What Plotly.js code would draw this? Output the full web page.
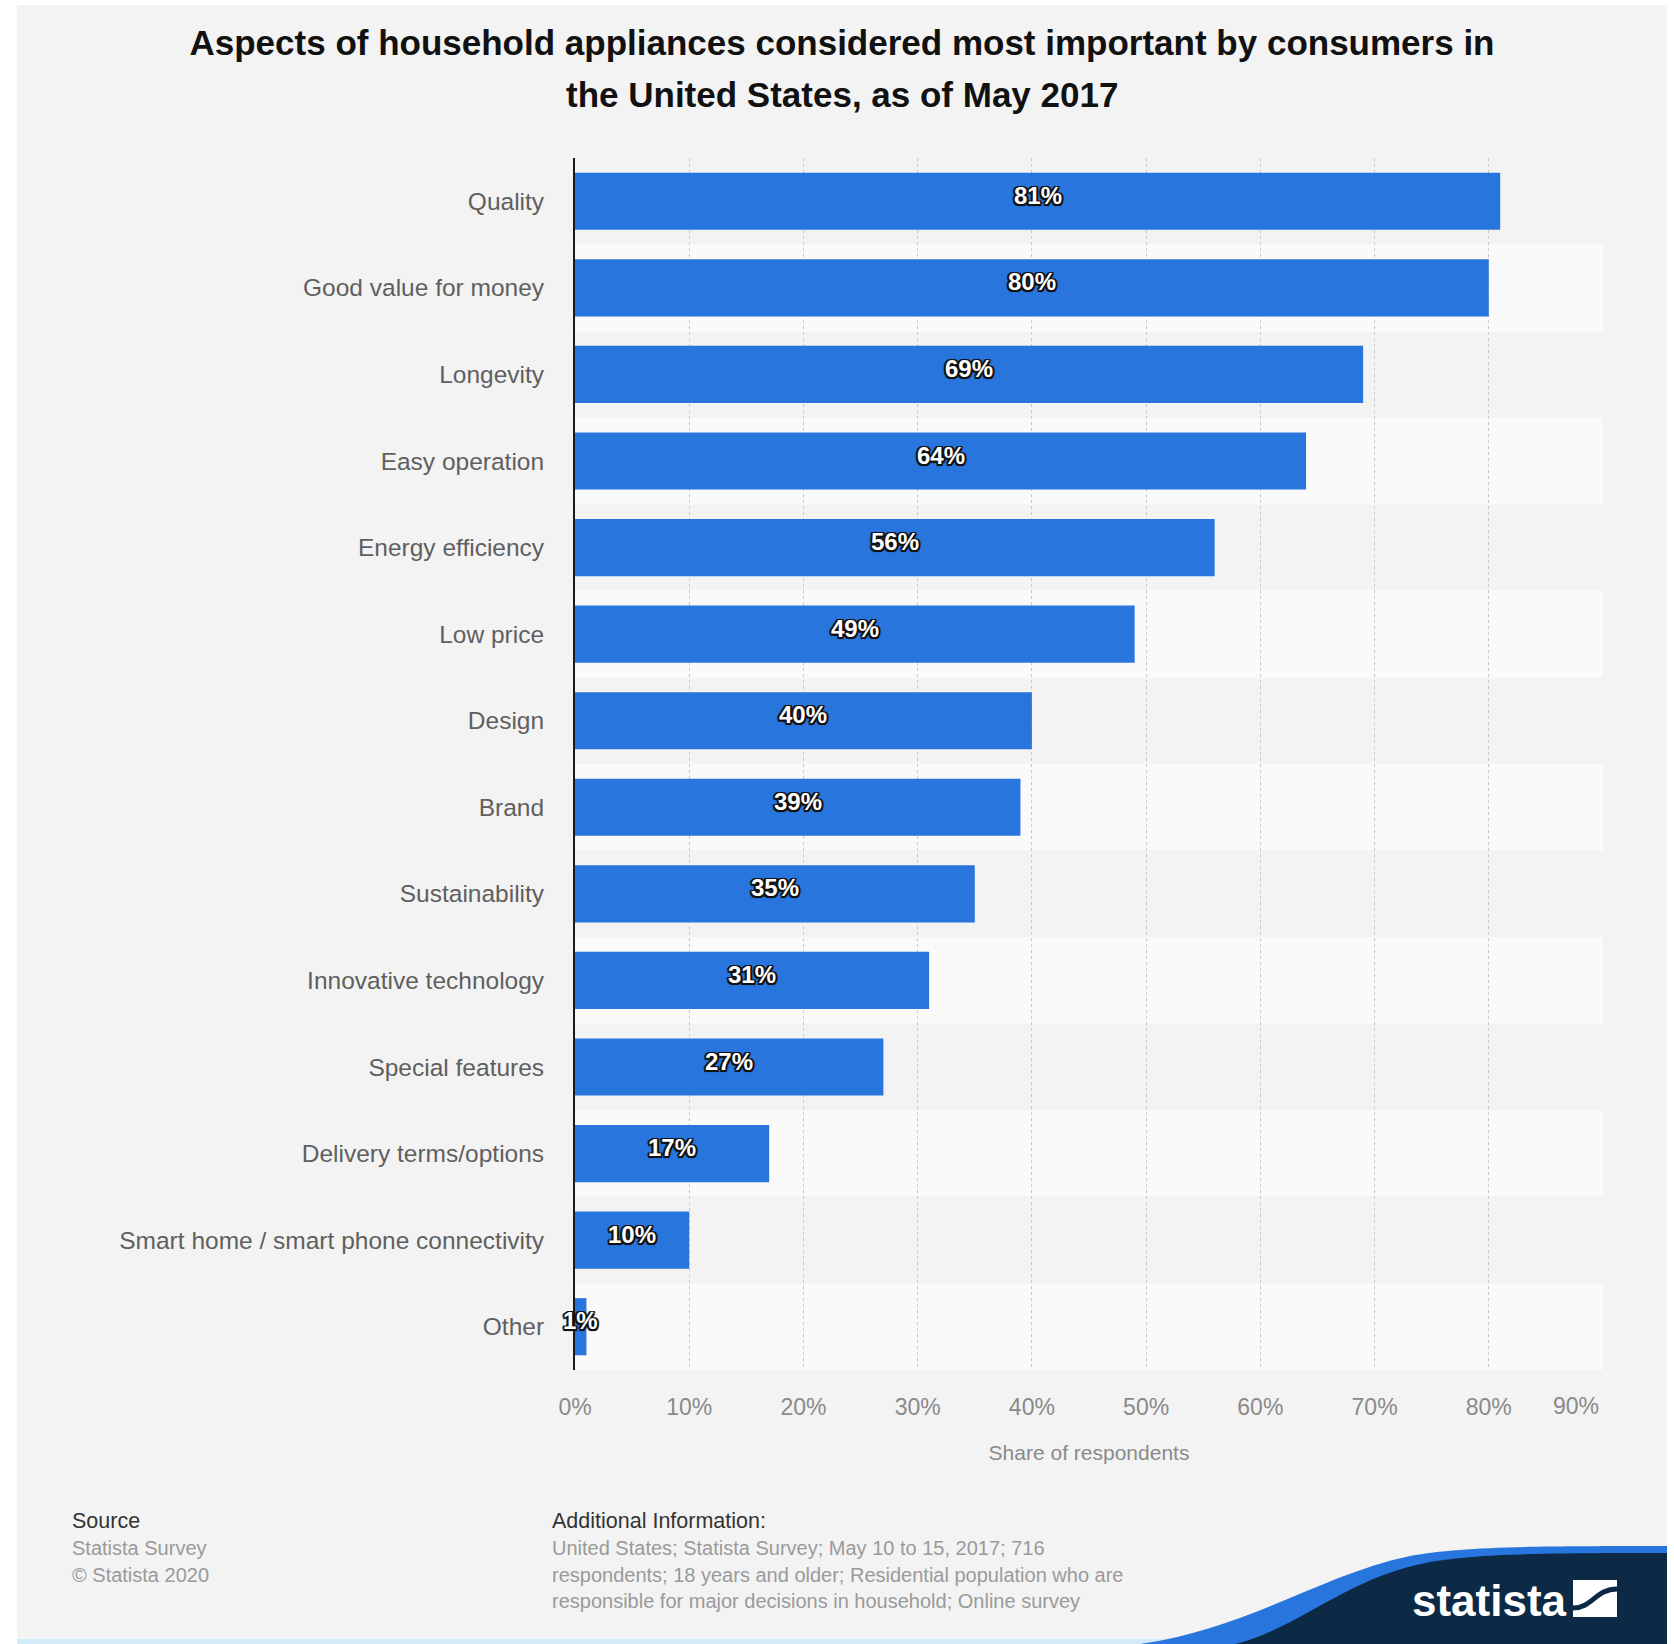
<!DOCTYPE html>
<html>
<head>
<meta charset="utf-8">
<script src="https://cdn.plot.ly/plotly-3.0.1.min.js"></script>
<style>html,body{margin:0;padding:0;background:#fff;}#chart{width:1674px;height:1644px;}</style>
</head>
<body>
<div id="chart"></div>
<script>
// ---- data ----
const categories = ['Quality','Good value for money','Longevity','Easy operation','Energy efficiency','Low price','Design','Brand','Sustainability','Innovative technology','Special features','Delivery terms/options','Smart home / smart phone connectivity','Other'];
const values = [81,80,69,64,56,49,40,39,35,31,27,17,10,1];
const xTickVals = [0,10,20,30,40,50,60,70,80,90];
const xTickText = ['0%','10%','20%','30%','40%','50%','60%','70%','80%','90%'];
const titleLine1 = 'Aspects of household appliances considered most important by consumers in';
const titleLine2 = 'the United States, as of May 2017';
const xTitle = 'Share of respondents';
const sourceLines = ['Statista Survey','© Statista 2020'];
const infoLines = ['United States; Statista Survey; May 10 to 15, 2017; 716','respondents; 18 years and older; Residential population who are','responsible for major decisions in household; Online survey'];

// ---- layout geometry (pixels) ----
const W = 1674, H = 1644;
const L = 575, R = 1603, T = 158, B = 1370;
const px = X => (X - L) / (R - L);
const py = Y => (B - Y) / (B - T);
const FONT = 'Liberation Sans, Arial, Helvetica, sans-serif';
const BAR = '#2876dd', NAVY = '#0c2a46';
const OUTLINE = '-1.5px -1.5px 0 #111, 1.5px -1.5px 0 #111, -1.5px 1.5px 0 #111, 1.5px 1.5px 0 #111, 0 2px 1px #111, 2px 0 1px #111, -2px 0 1px #111';

function pth(str){
  return str.replace(/(-?\d+(?:\.\d+)?),(-?\d+(?:\.\d+)?)/g, (m,a,b)=> px(+a).toFixed(5)+','+py(+b).toFixed(5));
}

const shapes = [];
shapes.push({type:'rect', xref:'paper', yref:'paper', layer:'below', x0:px(17), x1:px(1667), y0:py(5), y1:py(1640), fillcolor:'#f3f3f3', line:{width:0}});
categories.forEach((c,i)=>{
  if(i%2===1){
    shapes.push({type:'rect', xref:'paper', yref:'y', layer:'below', x0:0, x1:1, y0:i-0.5, y1:i+0.5, fillcolor:'#fafafa', line:{width:0}});
  }
});
shapes.push({type:'rect', xref:'paper', yref:'paper', layer:'above', x0:px(17), x1:px(1260), y0:py(1644), y1:py(1639), fillcolor:'#d3ebf6', line:{width:0}});
shapes.push({type:'path', xref:'paper', yref:'paper', layer:'above', path: pth('M 1140,1644 C 1250,1628 1320,1575 1410,1556 C 1460,1547 1520,1546 1667,1546 L 1667,1644 Z'), fillcolor:BAR, line:{width:0}});
shapes.push({type:'path', xref:'paper', yref:'paper', layer:'above', path: pth('M 1235,1644 C 1300,1628 1345,1578 1430,1562 C 1480,1554 1530,1553 1667,1553 L 1667,1644 Z'), fillcolor:NAVY, line:{width:0}});
shapes.push({type:'rect', xref:'paper', yref:'paper', layer:'above', x0:px(1573), x1:px(1617), y0:py(1617), y1:py(1580), fillcolor:'#ffffff', line:{width:0}});
shapes.push({type:'path', xref:'paper', yref:'paper', layer:'above', path: pth('M 1573,1608 C 1592,1608 1596,1589 1617,1589'), line:{color:NAVY, width:5}});

const annotations = [];
annotations.push({xref:'paper', yref:'paper', x:px(842), y:py(94), text:'<b>'+titleLine2+'</b>', showarrow:false, xanchor:'center', yanchor:'middle', font:{family:FONT, size:35, color:'#111'}});
// bar value labels
values.forEach((v,i)=> annotations.push({xref:'x', yref:'y', x:v/2, y:categories[i], yshift:6, text:'<b>'+v+'%</b>', showarrow:false, xanchor:'center', yanchor:'middle', font:{family:FONT, size:24, color:'#ffffff', shadow:OUTLINE}}));
// last x tick label, kept inside the plot edge as in the original
annotations.push({xref:'x', yref:'paper', x:xTickVals[xTickVals.length-1], y:py(1406), text:xTickText[xTickText.length-1], showarrow:false, xanchor:'right', yanchor:'middle', xshift:-2, font:{family:FONT, size:23, color:'#8a8a8a'}});
annotations.push({xref:'paper', yref:'paper', x:px(70), y:py(1521), text:'Source', showarrow:false, xanchor:'left', yanchor:'middle', font:{family:FONT, size:21.5, color:'#333'}});
sourceLines.forEach((t,i)=> annotations.push({xref:'paper', yref:'paper', x:px(70), y:py(1548 + i*26.5), text:t, showarrow:false, xanchor:'left', yanchor:'middle', font:{family:FONT, size:20, color:'#9a9a9a'}}));
annotations.push({xref:'paper', yref:'paper', x:px(550), y:py(1521), text:'Additional Information:', showarrow:false, xanchor:'left', yanchor:'middle', font:{family:FONT, size:21.5, color:'#333'}});
infoLines.forEach((t,i)=> annotations.push({xref:'paper', yref:'paper', x:px(550), y:py(1548 + i*26.5), text:t, showarrow:false, xanchor:'left', yanchor:'middle', font:{family:FONT, size:20, color:'#9a9a9a'}}));
annotations.push({xref:'paper', yref:'paper', x:px(1410), y:py(1600), text:'<b>statista</b>', showarrow:false, xanchor:'left', yanchor:'middle', font:{family:FONT, size:44, color:'#ffffff'}});

const trace = {
  type:'bar', orientation:'h',
  x: values, y: categories,
  width: 0.66,
  marker:{color:BAR, line:{width:0}},
  hoverinfo:'x+y', cliponaxis:false
};

const shownTickText = xTickText.map((t,i)=> i === xTickText.length-1 ? '' : t);

const layout = {
  width: W, height: H,
  margin:{l:L, r:W-R, t:T, b:H-B, pad:0},
  paper_bgcolor:'#ffffff', plot_bgcolor:'rgba(0,0,0,0)',
  showlegend:false,
  title:{text:'<b>'+titleLine1+'</b>', x:842/W, xanchor:'center', y:1-43/H, yanchor:'middle', font:{family:FONT, size:35, color:'#111'}},
  xaxis:{range:[0,90], tickvals:xTickVals, ticktext:shownTickText, showgrid:true, griddash:'dot', gridcolor:'#c8c8c8', gridwidth:1, zeroline:false, showline:false, ticks:'', ticklabelstandoff:21, tickfont:{family:FONT, size:23, color:'#8a8a8a'}, title:{text:xTitle, standoff:26, font:{family:FONT, size:21, color:'#8a8a8a'}}, fixedrange:true},
  yaxis:{type:'category', categoryorder:'array', categoryarray:categories, autorange:'reversed', showline:true, linecolor:'#1a1a1a', linewidth:2, ticks:'', showgrid:false, zeroline:false, ticklabelstandoff:24, tickfont:{family:FONT, size:24.5, color:'#5f5f5f'}, fixedrange:true},
  shapes: shapes, annotations: annotations
};

Plotly.newPlot('chart', [trace], layout, {displayModeBar:false, staticPlot:true});
</script>
</body>
</html>
